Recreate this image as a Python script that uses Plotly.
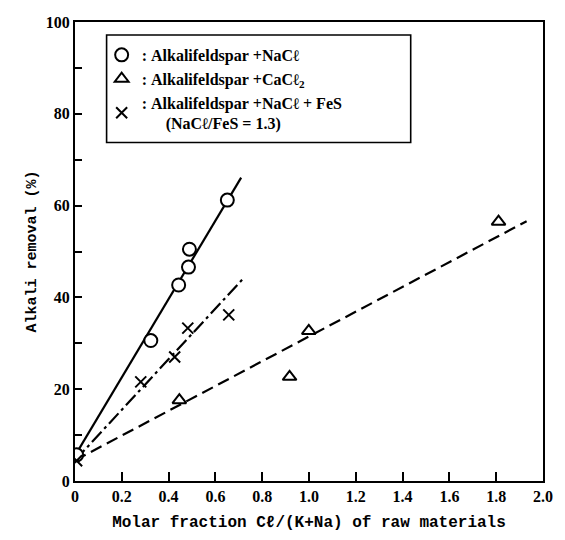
import plotly.graph_objects as go

# ---- data ----
nacl_x = [0.007, 0.324, 0.443, 0.485, 0.489, 0.651]
nacl_y = [5.7, 30.6, 42.7, 46.6, 50.5, 61.2]

cacl_x = [0.446, 0.917, 0.999, 1.81]
cacl_y = [17.6, 22.7, 32.7, 56.5]

fes_x = [0.007, 0.281, 0.426, 0.482, 0.657]
fes_y = [4.4, 21.6, 27.0, 33.3, 36.2]

# fitted lines (end points)
nacl_fit_x = [0.0, 0.71]
nacl_fit_y = [5.5, 66.1]
cacl_fit_x = [0.0, 1.93]
cacl_fit_y = [4.5, 56.6]
fes_fit_x = [0.0, 0.717]
fes_fit_y = [4.5, 44.0]

x_tickvals = [0, 0.2, 0.4, 0.6, 0.8, 1.0, 1.2, 1.4, 1.6, 1.8, 2.0]
x_ticktext = ["0", "0.2", "0.4", "0.6", "0.8", "1.0", "1.2", "1.4", "1.6", "1.8", "2.0"]
y_tickvals = [0, 20, 40, 60, 80, 100]
y_ticktext = ["0", "20", "40", "60", "80", "100"]

legend_names = [
    ":\u00a0Alkalifeldspar\u00a0+NaCℓ",
    ":\u00a0Alkalifeldspar\u00a0+CaCℓ<sub>2</sub>",
    ":\u00a0Alkalifeldspar\u00a0+NaCℓ\u00a0+\u00a0FeS<br>"
    "\u00a0\u00a0\u00a0\u00a0\u00a0\u00a0(NaCℓ/FeS\u00a0=\u00a01.3)",
]

SERIF = "Liberation Serif"
MONO = "Liberation Mono"

fig = go.Figure()

# lines
fig.add_trace(go.Scatter(x=nacl_fit_x, y=nacl_fit_y, mode="lines",
                         line=dict(color="black", width=2.2), showlegend=False, hoverinfo="skip"))
fig.add_trace(go.Scatter(x=fes_fit_x, y=fes_fit_y, mode="lines",
                         line=dict(color="black", width=2.2, dash="14px,4px,3px,4px"),
                         showlegend=False, hoverinfo="skip"))
fig.add_trace(go.Scatter(x=cacl_fit_x, y=cacl_fit_y, mode="lines",
                         line=dict(color="black", width=2.2, dash="12px,6px"),
                         showlegend=False, hoverinfo="skip"))

# markers
fig.add_trace(go.Scatter(x=nacl_x, y=nacl_y, mode="markers", name=legend_names[0],
                         legendgroup="a",
                         marker=dict(symbol="circle", size=13, color="white",
                                     line=dict(color="black", width=2))))
fig.add_trace(go.Scatter(x=cacl_x, y=cacl_y, mode="markers", name=legend_names[1],
                         legendgroup="b",
                         marker=dict(symbol="triangle-up", size=12, color="white",
                                     line=dict(color="black", width=2))))
fig.add_trace(go.Scatter(x=fes_x, y=fes_y, mode="markers", name=legend_names[2],
                         legendgroup="c",
                         marker=dict(symbol="x-thin", size=11, color="black",
                                     line=dict(color="black", width=2))))

# legend frame
L, R, T, B = 75, 549, 22, 483
W, H = R - L, B - T
def px(x):
    return (x - L) / W
def py(y):
    return (B - y) / H

fig.add_shape(type="rect", xref="paper", yref="paper",
              x0=px(107), x1=px(415), y0=py(143), y1=py(35),
              line=dict(color="black", width=1.6), fillcolor="white", layer="below")

fig.update_layout(
    width=565, height=540,
    margin=dict(l=L, r=565 - R, t=T, b=540 - B),
    paper_bgcolor="white", plot_bgcolor="white",
    font=dict(family=SERIF, color="black"),
    showlegend=True,
    legend=dict(x=px(102), y=py(38), xanchor="left", yanchor="top",
                bgcolor="rgba(0,0,0,0)", borderwidth=0,
                font=dict(family=SERIF, size=16, color="black", weight="bold"),
                tracegroupgap=0, itemsizing="trace"),
    xaxis=dict(range=[0, 2], tickvals=x_tickvals, ticktext=x_ticktext,
               showgrid=False, zeroline=False,
               showline=True, linecolor="black", linewidth=2, mirror=True,
               ticks="inside", ticklen=9, tickwidth=1.5, tickcolor="black",
               tickfont=dict(family=SERIF, size=16, color="black", weight="bold"),
               title=dict(text="Molar\u00a0fraction\u00a0Cℓ/(K+Na)\u00a0of\u00a0raw\u00a0materials",
                          font=dict(family=MONO, size=16, color="black", weight="bold"),
                          standoff=12)),
    yaxis=dict(range=[0, 100], tickvals=y_tickvals, ticktext=y_ticktext,
               showgrid=False, zeroline=False,
               showline=True, linecolor="black", linewidth=2, mirror=True,
               ticks="inside", ticklen=7, tickwidth=1.5, tickcolor="black",
               minor=dict(dtick=10, ticks="inside", ticklen=7, tickwidth=1.5, tickcolor="black"),
               tickfont=dict(family=SERIF, size=16, color="black", weight="bold"),
               title=dict(text="Alkali\u00a0removal\u00a0(%)",
                          font=dict(family=MONO, size=15, color="black", weight="bold"),
                          standoff=6)),
)

fig.write_html("out.html")
